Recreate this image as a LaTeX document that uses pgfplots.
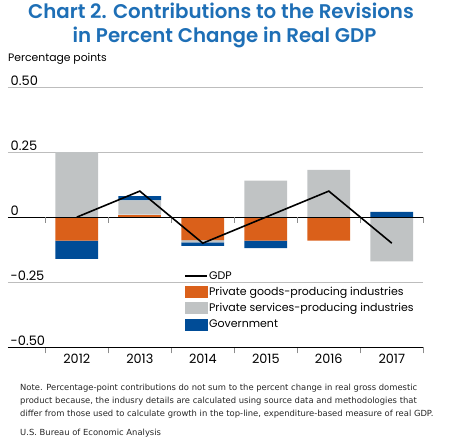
\documentclass[border=0pt]{standalone}
\usepackage{pgfplots}
\pgfplotsset{compat=1.18}
\usepackage{fontspec}
\setmainfont{Poppins}
\newfontfamily\titlefont{Poppins SemiBold}
\newfontfamily\notefont{DejaVu Sans}
\definecolor{cOrange}{HTML}{DA601A}
\definecolor{cGrey}{HTML}{C0C3C4}
\definecolor{cBlue}{HTML}{004C97}
\definecolor{cTitle}{HTML}{1E6FB6}
\definecolor{cGrid}{HTML}{BDBDBD}
\definecolor{cTick}{HTML}{8C8C8C}
\pgfplotsset{
  /pgfplots/area legend/.style={/pgfplots/legend image code/.code={\fill[##1] (0pt,-6pt) rectangle (23pt,6pt);}},
  gdplegend/.style={/pgfplots/legend image code/.code={\draw[##1] (0pt,0pt) -- (22pt,0pt);}},
  common/.style={scale only axis, at={(8pt,92.7pt)}, anchor=south west,
    width=415.3pt, height=260.3pt, xmin=-1.092, xmax=5.5, ymin=-0.5, ymax=0.5},
}
\begin{document}
\begin{tikzpicture}
\useasboundingbox (0pt,0pt) rectangle (450pt,440pt);
% titles
\node[anchor=base, font=\titlefont\fontsize{19.8}{22}\selectfont, text=cTitle, inner sep=0pt] at (221pt,421.7pt) {Chart 2. Contributions to the Revisions};
\node[anchor=base, font=\titlefont\fontsize{19.8}{22}\selectfont, text=cTitle, inner sep=0pt] at (224.5pt,397.3pt) {in Percent Change in Real GDP};
\node[anchor=base west, font=\fontsize{10.8}{12}\selectfont, inner sep=0pt] at (8pt,378.5pt) {Percentage points};

% negative parts
\begin{axis}[common,
  ybar stacked, bar width=42.7pt,
  axis lines*=left,
  y axis line style={draw=none},
  x axis line style={black, line width=0.8pt},
  ymajorgrids, grid style={cGrid, line width=0.8pt},
  ytick={-0.5,-0.25,0,0.25,0.5},
  yticklabels={-0.50,-0.25,0,0.25,0.50},
  yticklabel style={anchor=south west, inner sep=1.5pt, xshift=7pt, font=\fontsize{13}{14}\selectfont},
  ytick style={draw=none},
  xtick={-0.5,0.5,1.5,2.5,3.5,4.5,5.5},
  xticklabels={},
  tick align=outside, major tick length=6pt,
  xtick style={draw=cTick, line width=1pt},
  extra x ticks={0,1,2,3,4,5},
  extra x tick labels={2012,2013,2014,2015,2016,2017},
  extra x tick style={major tick length=0pt, xtick style={draw=none}, xticklabel style={yshift=-3pt, font=\fontsize{12.8}{13}\selectfont}},
]
\addplot[fill=cOrange, draw=none] coordinates {(0,-0.09) (1,0) (2,-0.088) (3,-0.09) (4,-0.09) (5,0)};
\addplot[fill=cGrey, draw=none] coordinates {(0,0) (1,0) (2,-0.009) (3,0) (4,0) (5,-0.17)};
\addplot[fill=cBlue, draw=none] coordinates {(0,-0.07) (1,0) (2,-0.013) (3,-0.029) (4,0) (5,0)};
\end{axis}

% positive parts
\begin{axis}[common, hide axis, ybar stacked, bar width=42.7pt]
\addplot[fill=cOrange, draw=none] coordinates {(0,0) (1,0.01) (2,0) (3,0) (4,0) (5,0)};
\addplot[fill=cGrey, draw=none] coordinates {(0,0.25) (1,0.054) (2,0) (3,0.14) (4,0.182) (5,0)};
\addplot[fill=cBlue, draw=none] coordinates {(0,0) (1,0.017) (2,0) (3,0) (4,0) (5,0.02)};
\end{axis}

% GDP line, zero line, legend
\begin{axis}[common, hide axis, clip=false,
  legend style={at={(0.424,0.296)}, anchor=north west, draw=none, fill=none,
    inner sep=0pt, font=\fontsize{11}{13}\selectfont, row sep=4.3pt,
    nodes={inner sep=1pt, anchor=west}},
  legend cell align=left,
]
\draw[black, line width=0.8pt] (axis cs:-1.092,0) -- (axis cs:5.5,0);
\pgfplotsinvokeforeach{-0.5,0.5,1.5,2.5,3.5,4.5,5.5}{\draw[cTick, line width=1pt] (axis cs:#1,0) -- ++(0pt,-6pt);}
\addlegendimage{gdplegend, black, line width=1.6pt}
\addlegendentry{GDP}
\addlegendimage{area legend, fill=cOrange, draw=none}
\addlegendentry{Private goods-producing industries}
\addlegendimage{area legend, fill=cGrey, draw=none}
\addlegendentry{Private services-producing industries}
\addlegendimage{area legend, fill=cBlue, draw=none}
\addlegendentry{Government}
\addplot[black, line width=1.6pt, forget plot] coordinates {(0,0) (1,0.10) (2,-0.10) (3,0) (4,0.10) (5,-0.10)};
\end{axis}

% notes
\begin{scope}[every node/.style={anchor=base west, inner sep=0pt, font=\notefont\fontsize{8.4}{10}\selectfont, text=black!85}]
\node at (20pt,49.7pt) {Note. Percentage-point contributions do not sum to the percent change in real gross domestic};
\node at (20pt,36.4pt) {product because, the indusry details are calculated using source data and methodologies that};
\node at (20pt,23.1pt) {differ from those used to calculate growth in the top-line, expenditure-based measure of real GDP.};
\node at (20pt,4.3pt) {U.S. Bureau of Economic Analysis};
\end{scope}
\end{tikzpicture}
\end{document}
